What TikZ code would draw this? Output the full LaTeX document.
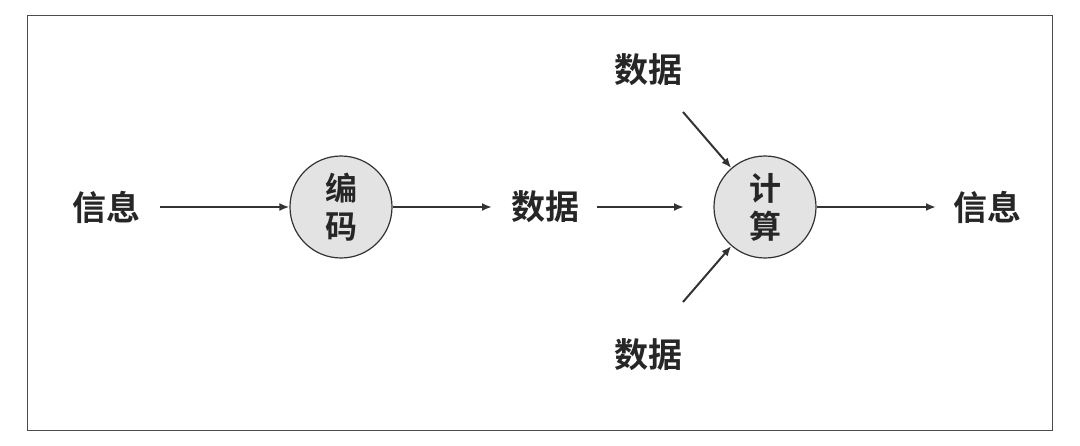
\documentclass[tikz,border=0pt]{standalone}
\usepackage{fontspec}
\newfontfamily\cjk{Noto Sans CJK SC Bold}
\usetikzlibrary{arrows.meta}
\begin{document}
\begin{tikzpicture}[x=1pt,y=-1pt,
  lbl/.style={font=\cjk\fontsize{34}{40}\selectfont, text=black!85, inner sep=0pt},
  proc/.style={circle, draw=black!80, line width=1.2pt, fill=black!11, minimum size=102pt, inner sep=0pt, align=center, font=\cjk\fontsize{32}{38}\selectfont, text=black!85},
  arr/.style={-{Latex[length=10pt,width=8pt]}, line width=2pt, draw=black!80}]
\useasboundingbox (0,0) rectangle (1080,445);
\draw[line width=0.9pt, draw=black!70] (27,15) rectangle (1052,430);
\node[lbl] (i1) at (106,207) {信息};
\node[lbl] (d1) at (545,207) {数据};
\node[proc] (enc) at (341,207) {编\\码};
\node[proc] (cal) at (765,207) {计\\算};
\node[lbl] (i2) at (987,207) {信息};
\node[lbl] (dt) at (648,70) {数据};
\node[lbl] (db) at (648,355) {数据};
\coordinate (ts) at (683,112);
\coordinate (bs) at (683,302);
\draw[arr] (160,207) -- (enc);
\draw[arr] (enc) -- (492,207);
\draw[arr] (597,207) -- (684,207);
\draw[arr] (cal) -- (936,207);
\draw[arr] (ts) -- (cal);
\draw[arr] (bs) -- (cal);
\end{tikzpicture}
\end{document}
